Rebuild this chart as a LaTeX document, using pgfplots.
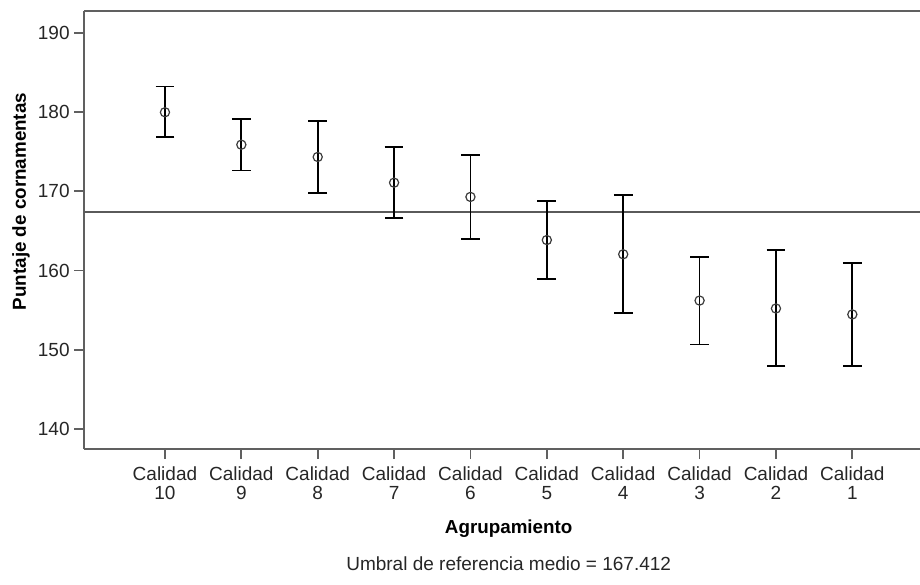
\documentclass[border=0pt]{standalone}
\usepackage{fontspec}
\setmainfont{Liberation Sans}
\usepackage{pgfplots}
\usepackage{pgfplotstable}
\usetikzlibrary{calc}
\pgfplotsset{compat=1.18}

\definecolor{axisgray}{RGB}{96,96,96}
\definecolor{refgray}{RGB}{90,90,90}
\definecolor{markgray}{RGB}{60,60,60}

% grupo, media, error hacia arriba, error hacia abajo
\pgfplotstableread{
pos media ep   em
1   180.00 3.25 3.10
2   175.90 3.20 3.25
3   174.35 4.55 4.60
4   171.10 4.55 4.50
5   169.30 5.30 5.35
6   163.85 4.95 4.95
7   162.05 7.50 7.40
8   156.20 5.50 5.55
9   155.20 7.35 7.30
10  154.45 6.45 6.55
}\datos

\begin{document}
\begin{tikzpicture}
\begin{axis}[
    scale only axis,
    width=418pt, height=219pt,
    xmin=-0.06, xmax=10.886,
    ymin=137.44, ymax=192.8,
    clip mode=individual,
    axis x line=box, axis y line=left,
    axis line style={-, axisgray, line width=0.9pt},
    xtick={1,...,10},
    xticklabels={{Calidad\\10},{Calidad\\9},{Calidad\\8},{Calidad\\7},{Calidad\\6},
                 {Calidad\\5},{Calidad\\4},{Calidad\\3},{Calidad\\2},{Calidad\\1}},
    ytick={140,150,...,190},
    xtick pos=left, ytick pos=left,
    tick align=outside,
    major tick length=5pt,
    tick style={axisgray, line width=0.9pt},
    /pgf/number format/assume math mode=true,
    ticklabel style={font=\fontsize{9.5}{9.5}\selectfont, text=black!85},
    xticklabel style={align=center, anchor=north, inner sep=0pt, yshift=-3.5pt},
    yticklabel style={anchor=east, inner sep=0pt, xshift=-2pt},
    every axis x label/.style={at={(axis description cs:0.508,-0.1918)}, anchor=base,
        font=\fontsize{9.4}{11}\selectfont\bfseries},
    every axis y label/.style={at={(axis description cs:-0.0694,0.565)}, rotate=90, anchor=base,
        font=\fontsize{9.4}{11}\selectfont\bfseries},
    xlabel={Agrupamiento},
    ylabel={Puntaje de cornamentas},
]
\addplot[refgray, line width=0.9pt] coordinates {(-0.06,167.412) (10.886,167.412)};
\addplot[only marks, mark=o, mark size=2.3pt,
    mark options={draw=markgray, line width=0.6pt},
    error bars/.cd, y dir=both, y explicit,
    error bar style={black, line width=0.9pt},
    error mark options={rotate=90, black, mark size=4.7pt, line width=0.9pt}]
    table[x=pos, y=media, y error plus=ep, y error minus=em] {\datos};
\end{axis}
\node[anchor=base, font=\fontsize{9.5}{11}\selectfont, text=black!85]
    at ([shift={(0pt,-60.5pt)}]$(current axis.south west)!0.508!(current axis.south east)$)
    {Umbral de referencia medio = 167.412};
\pgfresetboundingbox
\path[use as bounding box] ([shift={(-42pt,-67.5pt)}]current axis.south west)
    rectangle ([shift={(0pt,5.5pt)}]current axis.north east);
\end{tikzpicture}
\end{document}
